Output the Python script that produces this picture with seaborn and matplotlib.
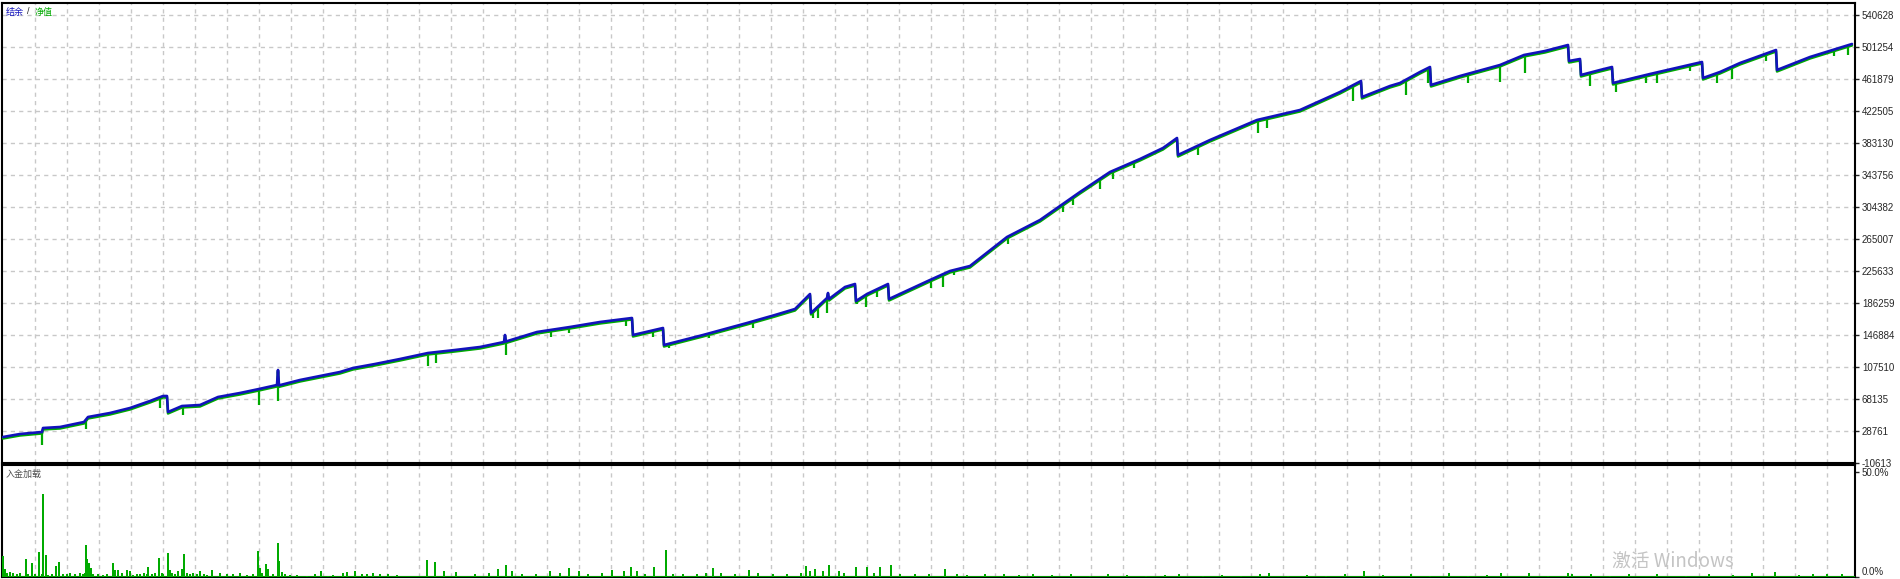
import numpy as np
import matplotlib
matplotlib.use("Agg")
import matplotlib.pyplot as plt
import matplotlib.transforms as mtransforms
import seaborn as sns

# Balance curve: trade number vs balance
bal_x = [3, 20, 42, 43, 60, 84, 88, 110, 130, 150,
         163, 167, 168, 182, 200, 218, 240, 259, 277, 278,
         279, 300, 320, 340, 353, 375, 400, 428, 455, 480,
         504, 505, 506, 537, 570, 600, 632, 633, 663, 664,
         703, 747, 775, 795, 810, 811, 827, 828, 829, 845,
         855, 856, 867, 888, 889, 930, 950, 970, 1007, 1040,
         1080, 1110, 1140, 1163, 1177, 1178, 1210, 1257, 1300, 1340,
         1361, 1362, 1390, 1400, 1420, 1430, 1431, 1460, 1500, 1524,
         1545, 1568, 1569, 1580, 1581, 1600, 1612, 1613, 1650, 1702,
         1703, 1720, 1740, 1776, 1777, 1810, 1852]
bal_y = [21379, 25070, 27531, 32453, 33684, 39836, 45988, 50910, 57062, 65676,
         71828, 71828, 52140, 59523, 60753, 70598, 75520, 80441, 85363, 103820,
         84900, 91515, 96437, 101359, 106281, 111203, 117355, 124738, 128429, 132120,
         138273, 146886, 138900, 150578, 156730, 162882, 167804, 146886, 155500, 134580,
         146886, 161652, 171495, 178878, 197335, 173956, 192413, 198566, 191183, 205948,
         209639, 188722, 197335, 209639, 191183, 214561, 225635, 231787, 267470, 288388,
         322841, 347450, 363446, 376981, 389286, 368368, 386826, 411435, 423740, 445888,
         459423, 439736, 453271, 456963, 470498, 476650, 454502, 465576, 479111, 491415,
         496337, 503720, 484033, 486494, 466807, 472959, 476650, 456963, 468037, 482802,
         463115, 470498, 481572, 497568, 472959, 488955, 504950]

# Equity drawdown lows (floating loss dips)
dip_x = [42, 86, 160, 183, 259, 278, 428, 436, 506, 551,
         569, 626, 653, 669, 709, 753, 813, 818, 827, 857,
         866, 877, 931, 943, 954, 966, 1008, 1063, 1073, 1100,
         1113, 1134, 1198, 1258, 1267, 1353, 1406, 1428, 1468, 1500,
         1525, 1590, 1616, 1646, 1657, 1690, 1717, 1732, 1766, 1834,
         1848]
dip_y = [11535, 31222, 57062, 48449, 60753, 65676, 108742, 112433, 122277, 144425,
         149347, 157960, 144425, 130890, 143195, 155500, 167804, 167804, 173956, 185030,
         181339, 193644, 204718, 205948, 220714, 229326, 258859, 298232, 306845, 326532,
         338836, 352371, 368368, 395439, 401591, 434814, 442197, 456963, 456963, 458193,
         469268, 453271, 445888, 456963, 456963, 471729, 456963, 461885, 484033, 490185,
         491415]

# Deposit load (%)
load_x = [3, 5, 7, 10, 13, 17, 20, 26, 28, 32,
          35, 39, 42, 43, 46, 48, 52, 56, 59, 63,
          67, 70, 75, 80, 83, 85, 86, 87, 89, 91,
          93, 98, 103, 107, 113, 115, 118, 122, 127, 130,
          133, 137, 140, 144, 147, 148, 152, 155, 159, 162,
          163, 168, 170, 172, 175, 178, 182, 184, 187, 190,
          193, 197, 200, 204, 207, 212, 220, 227, 233, 240,
          247, 253, 258, 260, 262, 266, 268, 273, 278, 279,
          282, 285, 290, 297, 307, 315, 321, 328, 333, 343,
          347, 355, 362, 367, 373, 380, 388, 397, 427, 435,
          444, 456, 475, 489, 498, 506, 512, 522, 536, 550,
          560, 569, 579, 588, 602, 612, 624, 631, 637, 645,
          654, 666, 673, 683, 697, 706, 713, 721, 735, 749,
          758, 773, 787, 801, 806, 810, 815, 823, 829, 839,
          844, 856, 867, 874, 880, 891, 900, 915, 929, 945,
          957, 967, 985, 1004, 1019, 1033, 1052, 1071, 1090, 1108,
          1127, 1146, 1165, 1179, 1203, 1222, 1241, 1260, 1269, 1288,
          1307, 1326, 1345, 1364, 1383, 1411, 1430, 1449, 1468, 1487,
          1501, 1529, 1548, 1568, 1572, 1591, 1610, 1629, 1657, 1686,
          1709, 1733, 1752, 1775, 1799, 1813, 1827, 1842]
load_pct = [10.1, 3.8, 2.0, 2.5, 2.0, 1.5, 2.0, 8.6, 1.4, 6.7,
            1.4, 12.0, 1.5, 39.4, 10.6, 1.0, 1.4, 5.3, 7.2, 1.4,
            1.5, 1.7, 1.5, 2.0, 1.5, 2.0, 15.4, 8.6, 6.7, 4.3,
            1.4, 1.4, 1.0, 1.5, 6.7, 3.4, 3.4, 2.0, 3.4, 3.0,
            1.0, 1.5, 1.4, 2.0, 1.4, 4.8, 1.5, 2.0, 9.1, 2.0,
            1.4, 11.5, 3.4, 2.0, 1.4, 3.0, 3.8, 11.0, 2.0, 1.5,
            2.0, 1.5, 3.0, 1.5, 1.0, 3.4, 2.0, 1.4, 1.5, 2.0,
            1.0, 1.5, 12.5, 4.3, 2.0, 6.2, 3.8, 1.5, 16.3, 7.7,
            2.5, 1.4, 1.0, 1.0, 0.7, 1.4, 3.0, 0.7, 1.0, 2.0,
            2.5, 3.0, 1.4, 1.5, 2.0, 1.5, 1.4, 1.0, 8.2, 7.2,
            2.9, 2.4, 1.4, 2.1, 3.8, 5.8, 2.9, 1.3, 1.3, 2.9,
            2.1, 4.3, 2.9, 1.3, 2.1, 3.3, 2.9, 4.8, 2.9, 1.3,
            4.8, 13.0, 1.3, 1.6, 1.3, 2.1, 4.3, 2.1, 1.3, 3.3,
            2.1, 1.3, 1.3, 2.1, 5.3, 2.9, 3.7, 2.9, 5.8, 2.9,
            2.1, 4.8, 4.8, 2.1, 4.8, 5.8, 1.3, 1.3, 1.6, 3.8,
            1.3, 1.0, 1.3, 1.3, 0.8, 1.3, 0.8, 1.3, 0.5, 1.3,
            1.0, 0.5, 0.8, 1.6, 0.5, 1.0, 0.5, 1.3, 2.1, 0.5,
            1.0, 0.5, 1.3, 2.9, 1.0, 1.3, 0.5, 2.1, 0.5, 1.0,
            2.1, 2.1, 0.5, 2.0, 1.6, 1.3, 0.5, 1.6, 1.3, 0.5,
            1.3, 1.0, 2.1, 2.5, 1.0, 1.6, 1.3, 1.3]

yticks = [-10613, 28761, 68135, 107510, 146884, 186259, 225633, 265007,
          304382, 343756, 383130, 422505, 461879, 501254, 540628]

BLUE = "#1212bc"
GREEN = "#00aa00"
GRID = "#c8c8c8"

sns.set_style("white")
plt.rcParams["font.family"] = ["Liberation Sans", "Noto Sans CJK SC", "DejaVu Sans"]

W, H = 1900, 579
fig = plt.figure(figsize=(W / 100, H / 100), dpi=100)
ax = fig.add_axes([2 / W, 1 - 463 / H, 1853 / W, 460 / H])
ax2 = fig.add_axes([2 / W, 1 - 577 / H, 1853 / W, 112 / H])

# equity drawn just under the balance line
off = ax.transData + mtransforms.ScaledTranslation(0, -1.5 / 100, fig.dpi_scale_trans)
sns.lineplot(x=bal_x, y=bal_y, ax=ax, color=GREEN, lw=1.8, estimator=None,
             sort=False, transform=off, zorder=3)
dip_top = np.interp(dip_x, bal_x, bal_y)
ax.vlines(dip_x, dip_y, dip_top, color=GREEN, lw=1.6, zorder=3)
sns.lineplot(x=bal_x, y=bal_y, ax=ax, color=BLUE, lw=1.9, estimator=None,
             sort=False, zorder=4)

ax.set_xlim(2, 1855)
ax.set_ylim(-10613, 555394)
ax.set_xticks(np.arange(35, 1830, 32))
ax.set_yticks(yticks)
ax.set_yticklabels([str(v) for v in yticks])
ax.yaxis.tick_right()
ax.grid(True, color=GRID, lw=1, linestyle=(0, (3, 3)))
ax.tick_params(axis="x", length=0, labelbottom=False)
ax.tick_params(axis="y", direction="out", length=3, width=1, labelsize=7, pad=2)
ax.set_xlabel("")
ax.set_ylabel("")

# deposit load panel
ax2.bar(load_x, load_pct, width=1.8, color=GREEN, linewidth=0, zorder=3)
ax2.axhline(0, color=GREEN, lw=2, zorder=3)
ax2.set_xlim(2, 1855)
ax2.set_ylim(0, 53.33)
ax2.set_xticks(np.arange(35, 1830, 32))
ax2.set_yticks([0, 50])
ax2.set_yticklabels(["0.0%", "50.0%"])
ax2.yaxis.tick_right()
ax2.grid(True, axis="x", color=GRID, lw=1, linestyle=(0, (3, 3)))
ax2.tick_params(axis="x", length=0, labelbottom=False)
ax2.tick_params(axis="y", direction="out", length=3, width=1, labelsize=7, pad=2)
# keep the bottom label inside the figure
ax2.get_yticklabels()[0].set_va("bottom")

for a in (ax, ax2):
    for s in a.spines.values():
        s.set_color("black")
        s.set_linewidth(1.5)
        s.set_visible(True)

# labels
fig.text(6 / W, 1 - 12 / H, "结余", color=BLUE, fontsize=6.5, va="center")
fig.text(27 / W, 1 - 12 / H, "/", color="#202020", fontsize=6.5, va="center")
fig.text(35 / W, 1 - 12 / H, "净值", color=GREEN, fontsize=6.5, va="center")
fig.text(6 / W, 1 - 474 / H, "入金加载", color="#505050", fontsize=6.5, va="center")
fig.text(1612 / W, 1 - 561 / H, "激活 Windows", color="#c4c4c4", fontsize=13.5,
         va="center", family=["Noto Sans CJK SC", "DejaVu Sans"])

fig.savefig("out.png", dpi=100)
